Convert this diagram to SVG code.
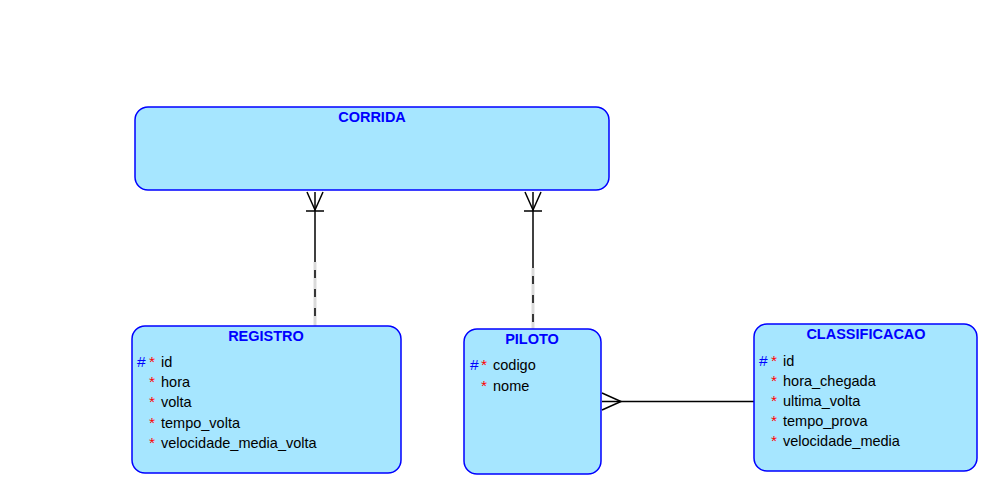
<svg xmlns="http://www.w3.org/2000/svg" width="989" height="487" viewBox="0 0 989 487">
<style>
.ent{fill:#A6E6FF;stroke:#0000FF;stroke-width:1.5}
.title{font-family:"Liberation Sans",Arial,sans-serif;font-size:14.5px;font-weight:bold;fill:#0000FF;text-anchor:middle}
.attr{font-family:"Liberation Sans",Arial,sans-serif;font-size:14.5px;fill:#000}
.pk{fill:#0000FF;font-size:15.5px}
.req{fill:#FF0000;font-size:15.5px}
.ln{stroke:#000;stroke-width:1.5;fill:none}
.gap{stroke:#DADADA;stroke-width:3;fill:none}
.dash{stroke:#000;stroke-width:1.5;fill:none;stroke-dasharray:8,11}
</style>
<rect width="989" height="487" fill="#fff"/>
<g id="connectors">
  <g id="corrida-registro">
    <line class="gap" x1="315" y1="262" x2="315" y2="326"/>
    <line class="ln" x1="315" y1="192" x2="315" y2="262"/>
    <line class="dash" x1="315" y1="270" x2="315" y2="326"/>
    <path class="ln" d="M307,192 L315,210 L323,192 M306,211 H324"/>
  </g>
  <g id="corrida-piloto">
    <line class="gap" x1="533" y1="268" x2="533" y2="329"/>
    <line class="ln" x1="533" y1="192" x2="533" y2="268"/>
    <line class="dash" x1="533" y1="276" x2="533" y2="329"/>
    <path class="ln" d="M525,192 L533,210 L541,192 M524,211 H542"/>
  </g>
  <g id="piloto-classificacao">
    <line class="ln" x1="602" y1="401.5" x2="754" y2="401.5"/>
    <path class="ln" d="M602,393 L621,401.5 L602,410"/>
  </g>
</g>
<g id="corrida">
  <rect class="ent" x="135" y="107" width="474" height="83" rx="13"/>
  <text class="title" x="372" y="122">CORRIDA</text>
</g>
<g id="registro">
  <rect class="ent" x="132" y="326" width="269" height="147" rx="13"/>
  <text class="title" x="266" y="341">REGISTRO</text>
  <text class="attr" x="137" y="367"><tspan class="pk">#</tspan></text>
  <text class="attr" x="149" y="367"><tspan class="req">*</tspan></text>
  <text class="attr" x="161" y="367">id</text>
  <text class="attr" x="149" y="387"><tspan class="req">*</tspan></text>
  <text class="attr" x="161" y="387">hora</text>
  <text class="attr" x="149" y="407"><tspan class="req">*</tspan></text>
  <text class="attr" x="161" y="407">volta</text>
  <text class="attr" x="149" y="428"><tspan class="req">*</tspan></text>
  <text class="attr" x="161" y="428">tempo_volta</text>
  <text class="attr" x="149" y="448"><tspan class="req">*</tspan></text>
  <text class="attr" x="161" y="448">velocidade_media_volta</text>
</g>
<g id="piloto">
  <rect class="ent" x="464" y="329" width="137" height="145" rx="13"/>
  <text class="title" x="532" y="344">PILOTO</text>
  <text class="attr" x="470" y="370"><tspan class="pk">#</tspan></text>
  <text class="attr" x="481" y="370"><tspan class="req">*</tspan></text>
  <text class="attr" x="493" y="370">codigo</text>
  <text class="attr" x="481" y="391"><tspan class="req">*</tspan></text>
  <text class="attr" x="493" y="391">nome</text>
</g>
<g id="classificacao">
  <rect class="ent" x="754" y="324" width="223" height="147" rx="13"/>
  <text class="title" x="866" y="339">CLASSIFICACAO</text>
  <text class="attr" x="759" y="366"><tspan class="pk">#</tspan></text>
  <text class="attr" x="771" y="366"><tspan class="req">*</tspan></text>
  <text class="attr" x="783" y="366">id</text>
  <text class="attr" x="771" y="386"><tspan class="req">*</tspan></text>
  <text class="attr" x="783" y="386">hora_chegada</text>
  <text class="attr" x="771" y="406"><tspan class="req">*</tspan></text>
  <text class="attr" x="783" y="406">ultima_volta</text>
  <text class="attr" x="771" y="426"><tspan class="req">*</tspan></text>
  <text class="attr" x="783" y="426">tempo_prova</text>
  <text class="attr" x="771" y="446"><tspan class="req">*</tspan></text>
  <text class="attr" x="783" y="446">velocidade_media</text>
</g>
</svg>
